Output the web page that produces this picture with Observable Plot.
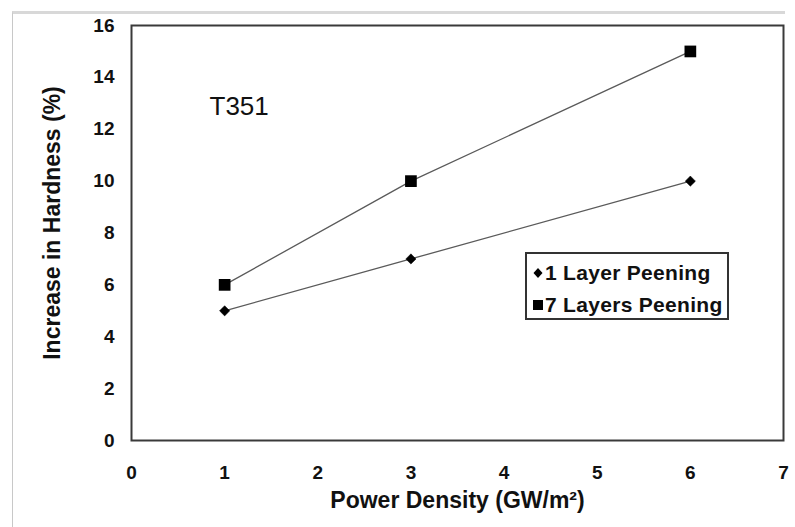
<!DOCTYPE html>
<html>
<head>
<meta charset="utf-8">
<script src="https://cdn.jsdelivr.net/npm/d3@7"></script>
<script src="https://cdn.jsdelivr.net/npm/@observablehq/plot@0.6"></script>
<style>
  html, body { margin: 0; padding: 0; background: #fff; }
  #chart { position: relative; width: 795px; height: 527px; overflow: hidden; font-family: "Liberation Sans", Arial, sans-serif; }
  #outline { position: absolute; left: 12px; top: 11px; width: 773px; height: 530px; border-left: 1px solid #c8c8c8; border-top: 3px solid #d8d8d8; box-sizing: border-box; pointer-events: none; }
  #legend { position: absolute; left: 525px; top: 252px; width: 204px; height: 68px; border: 2px solid #333; box-sizing: border-box; background: #fff; padding: 3px 0 0 5px; }
  .entry { display: flex; align-items: center; height: 32px; font-weight: bold; font-size: 21px; color: #111; letter-spacing: 0.3px; white-space: nowrap; }
  .entry svg { margin-right: 1px; }
</style>
</head>
<body>
<div id="chart"><div id="outline"></div></div>
<script>
// Power density (GW/m²) and hardness increase (%) for each peening treatment
const powerDensity = [1, 3, 6];
const oneLayer = [5, 7, 10];
const sevenLayers = [6, 10, 15];
const seriesNames = ["1 Layer Peening", "7 Layers Peening"];
const xTicks = [0, 1, 2, 3, 4, 5, 6, 7];
const yTicks = [0, 2, 4, 6, 8, 10, 12, 14, 16];

const rows1 = powerDensity.map((x, i) => ({x, y: oneLayer[i], series: seriesNames[0]}));
const rows7 = powerDensity.map((x, i) => ({x, y: sevenLayers[i], series: seriesNames[1]}));

const font = "Liberation Sans, Arial, sans-serif";

const chart = Plot.plot({
  width: 795,
  height: 527,
  marginLeft: 131,
  marginRight: 12,
  marginTop: 25,
  marginBottom: 87,
  style: {fontFamily: font, background: "transparent", color: "#111"},
  x: {domain: [0, 7]},
  y: {domain: [0, 16]},
  marks: [
    Plot.frame({stroke: "#3a3a3a", strokeWidth: 2}),
    Plot.axisY({ticks: yTicks, tickFormat: "d", tickSize: 0, tickPadding: 17, fontSize: 19, fontWeight: "bold", label: null}),
    Plot.axisX({ticks: xTicks, tickFormat: "d", tickSize: 0, tickPadding: 25, fontSize: 19, fontWeight: "bold", label: null}),
    Plot.text(["Power Density (GW/m²)"], {frameAnchor: "bottom", textAnchor: "middle", dy: 67, fontSize: 23, fontWeight: "bold", letterSpacing: "1.4px"}),
    Plot.text(["Increase in Hardness (%)"], {frameAnchor: "left", textAnchor: "middle", rotate: -90, dx: -79, dy: -10, fontSize: 23, fontWeight: "bold", letterSpacing: "1.4px"}),
    Plot.text(["T351"], {frameAnchor: "top-left", textAnchor: "start", dx: 78, dy: 71, fontSize: 26}),
    Plot.line(rows1, {x: "x", y: "y", stroke: "#5a5a5a", strokeWidth: 1.3}),
    Plot.line(rows7, {x: "x", y: "y", stroke: "#5a5a5a", strokeWidth: 1.3}),
    Plot.dot(rows1, {x: "x", y: "y", symbol: "diamond2", r: 4.6, fill: "#000", stroke: "#000", strokeWidth: 0.5}),
    Plot.dot(rows7, {x: "x", y: "y", symbol: "square", r: 6.6, fill: "#000", stroke: "none"})
  ]
});

const root = document.getElementById("chart");
root.insertBefore(chart, root.firstChild);

// Legend box drawn with the same symbols as the series
const legend = document.createElement("div");
legend.id = "legend";
const symbols = [
  '<svg width="12" height="14" viewBox="-6 -7 12 14"><path d="M0,-5L4.5,0L0,5L-4.5,0Z" fill="#000"/></svg>',
  '<svg width="12" height="14" viewBox="-6 -7 12 14"><rect x="-5" y="-5" width="10" height="10" fill="#000"/></svg>'
];
seriesNames.forEach((name, i) => {
  const row = document.createElement("div");
  row.className = "entry";
  row.innerHTML = symbols[i] + "<span>" + name + "</span>";
  legend.appendChild(row);
});
root.appendChild(legend);
</script>
</body>
</html>
